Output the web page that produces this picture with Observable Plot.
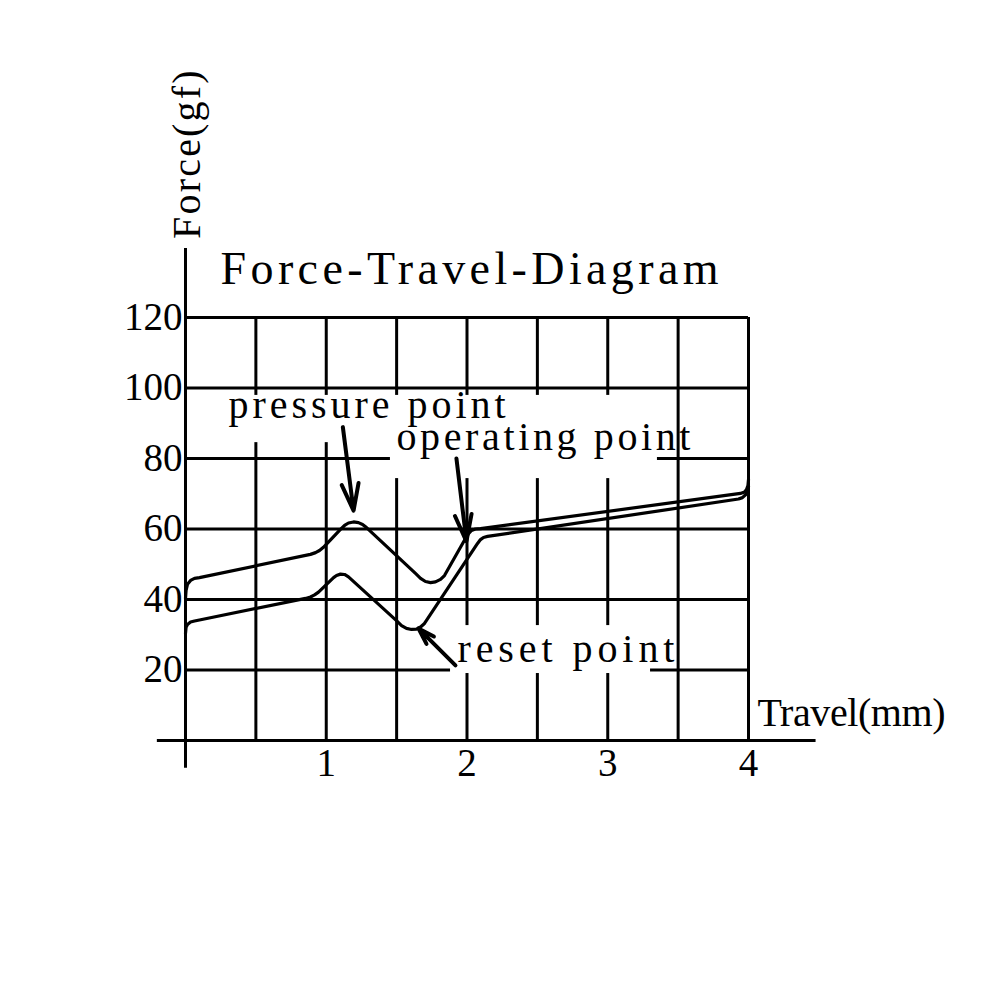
<!DOCTYPE html>
<html><head><meta charset="utf-8">
<script src="https://cdn.jsdelivr.net/npm/d3@7"></script>
<script src="https://cdn.jsdelivr.net/npm/@observablehq/plot@0.6"></script>
<style>body{margin:0;background:#fff}</style>
</head><body><div id="chart"></div>
<script>
// Pressing (upper) curve: travel (mm) and force (gf)
const travelUp = [0, 0.004, 0.014, 0.036, 0.064, 0.099, 0.853, 0.888, 0.924, 0.952, 0.980, 1.101, 1.130, 1.158, 1.194, 1.229, 1.258, 1.286, 1.634, 1.670, 1.705, 1.741, 1.776, 1.812, 1.840, 1.989, 2.011, 2.032, 2.060, 2.096, 3.943, 3.972, 3.986, 3.996, 4.0];
const forceUp  = [40.3, 42.6, 44.3, 45.4, 46.0, 46.2, 52.5, 52.8, 53.3, 53.9, 54.8, 59.9, 61.0, 61.7, 62.0, 61.8, 61.3, 60.4, 47.4, 46.0, 45.1, 44.8, 45.0, 45.7, 46.8, 57.3, 58.7, 59.6, 60.0, 60.1, 70.1, 70.5, 71.2, 72.3, 74.0];
// Release (lower) curve
const travelDown = [0, 0.004, 0.014, 0.036, 0.064, 0.099, 0.853, 0.888, 0.917, 0.945, 1.052, 1.073, 1.101, 1.130, 1.158, 1.499, 1.535, 1.570, 1.606, 1.641, 1.670, 1.698, 2.075, 2.096, 2.117, 2.146, 3.929, 3.957, 3.979, 3.993, 4.0];
const forceDown  = [30.4, 32.1, 32.9, 33.6, 33.9, 34.2, 40.3, 40.7, 41.3, 42.1, 46.2, 46.8, 47.2, 47.1, 46.4, 34.0, 32.6, 31.8, 31.5, 31.6, 32.2, 33.2, 55.9, 57.0, 57.6, 57.9, 68.5, 68.9, 69.7, 70.6, 72.1];

// Axes, ticks and grid
const xTicks = [1, 2, 3, 4];
const yTicks = [20, 40, 60, 80, 100, 120];
const xGrid = [0.5, 1, 1.5, 2, 2.5, 3, 3.5, 4];
const yGrid = [20, 40, 60, 80, 100, 120];
const xAxisExtent = [-0.2, 4.48];
const yAxisExtent = [-7.9, 139.6];

// Annotations (data units)
const labelTexts = ["pressure point", "operating point", "reset point"];
const labelX1 = [0.306, 1.499, 1.932];
const labelX2 = [2.274, 3.588, 3.474];
const labelY  = [95.0, 86.0, 25.8];
const labelBgX1 = [0.107, 1.456, 1.883];
const labelBgX2 = [1.456, 3.353, 3.304];
const labelBgY1 = [84.5, 74.3, 19.0];
const labelBgY2 = [97.9, 97.9, 32.6];
const arrowX1 = [1.118, 1.925, 1.918];
const arrowY1 = [88.9, 80.0, 21.3];
const arrowX2 = [1.194, 1.996, 1.655];
const arrowY2 = [65.2, 56.5, 31.8];

const titleText = "Force-Travel-Diagram";
const titleX = [0.249, 3.787];
const titleY = 133.8;
const xLabelText = "Travel(mm)";
const xLabelX = [4.064, 5.400];
const xLabelY = 7.7;
const yLabelText = "Force(gf)";
const yLabelX = 0.014;
const yLabelY = [142.3, 190.1];

const up = travelUp.map((t, i) => ({t, f: forceUp[i]}));
const down = travelDown.map((t, i) => ({t, f: forceDown[i]}));
const labels = labelTexts.map((s, i) => ({s, x: labelX1[i], y: labelY[i]}));
const bgs = labelBgX1.map((v, i) => ({x1: v, x2: labelBgX2[i], y1: labelBgY1[i], y2: labelBgY2[i]}));
const arrows = arrowX1.map((v, i) => ({x1: v, y1: arrowY1[i], x2: arrowX2[i], y2: arrowY2[i]}));

const FONT = "'Liberation Serif', 'Times New Roman', serif";

const chart = Plot.plot({
  width: 1000,
  height: 1000,
  marginLeft: 185,
  marginRight: 252,
  marginTop: 317,
  marginBottom: 260,
  x: {domain: [0, 4]},
  y: {domain: [0, 120]},
  style: {fontFamily: FONT, fontSize: "39px", color: "black", background: "white"},
  marks: [
    Plot.ruleY(yGrid, {x1: 0, x2: 4, stroke: "black", strokeWidth: 3}),
    Plot.ruleX(xGrid, {y1: 0, y2: 120, stroke: "black", strokeWidth: 3}),
    Plot.ruleX([0], {y1: yAxisExtent[0], y2: yAxisExtent[1], stroke: "black", strokeWidth: 3}),
    Plot.ruleY([0], {x1: xAxisExtent[0], x2: xAxisExtent[1], stroke: "black", strokeWidth: 3}),
    Plot.rect(bgs, {x1: "x1", x2: "x2", y1: "y1", y2: "y2", fill: "white"}),
    Plot.line(up, {x: "t", y: "f", curve: "linear", stroke: "black", strokeWidth: 3.2, strokeLinejoin: "round"}),
    Plot.line(down, {x: "t", y: "f", curve: "linear", stroke: "black", strokeWidth: 3.2, strokeLinejoin: "round"}),
    Plot.arrow(arrows, {x1: "x1", y1: "y1", x2: "x2", y2: "y2", stroke: "black", strokeWidth: 4, headLength: 14, headAngle: 35}),
    Plot.axisY({ticks: yTicks, tickSize: 0, tickPadding: 3, label: null, fontSize: 39, tickFormat: d => String(d)}),
    Plot.axisX({ticks: xTicks, tickSize: 0, tickPadding: 8, label: null, fontSize: 39, tickFormat: d => String(d)}),
    Plot.text(labels, {x: "x", y: "y", text: "s", textAnchor: "start", fontSize: 40, fill: "black", className: "lbl"}),
    Plot.text([{s: titleText, x: titleX[0], y: titleY}], {x: "x", y: "y", text: "s", textAnchor: "start", fontSize: 46, fill: "black", className: "ttl"}),
    Plot.text([{s: xLabelText, x: xLabelX[0], y: xLabelY}], {x: "x", y: "y", text: "s", textAnchor: "start", fontSize: 40, fill: "black", className: "xlab"}),
    Plot.text([{s: yLabelText, x: yLabelX, y: (yLabelY[0] + yLabelY[1]) / 2}], {x: "x", y: "y", text: "s", rotate: -90, textAnchor: "middle", fontSize: 40, fill: "black", className: "ylab"})
  ]
});

document.getElementById("chart").appendChild(chart);

const xs = chart.scale("x"), ys = chart.scale("y");
const sel = d3.select(chart);
sel.selectAll(".lbl text").each(function(d, i) {
  this.setAttribute("textLength", Math.abs(xs.apply(labelX2[i]) - xs.apply(labelX1[i])));
});
sel.selectAll(".ttl text").attr("textLength", Math.abs(xs.apply(titleX[1]) - xs.apply(titleX[0])));
sel.selectAll(".xlab text").attr("textLength", Math.abs(xs.apply(xLabelX[1]) - xs.apply(xLabelX[0])));
sel.selectAll(".ylab text").attr("textLength", Math.abs(ys.apply(yLabelY[1]) - ys.apply(yLabelY[0])));
</script>
</body></html>
